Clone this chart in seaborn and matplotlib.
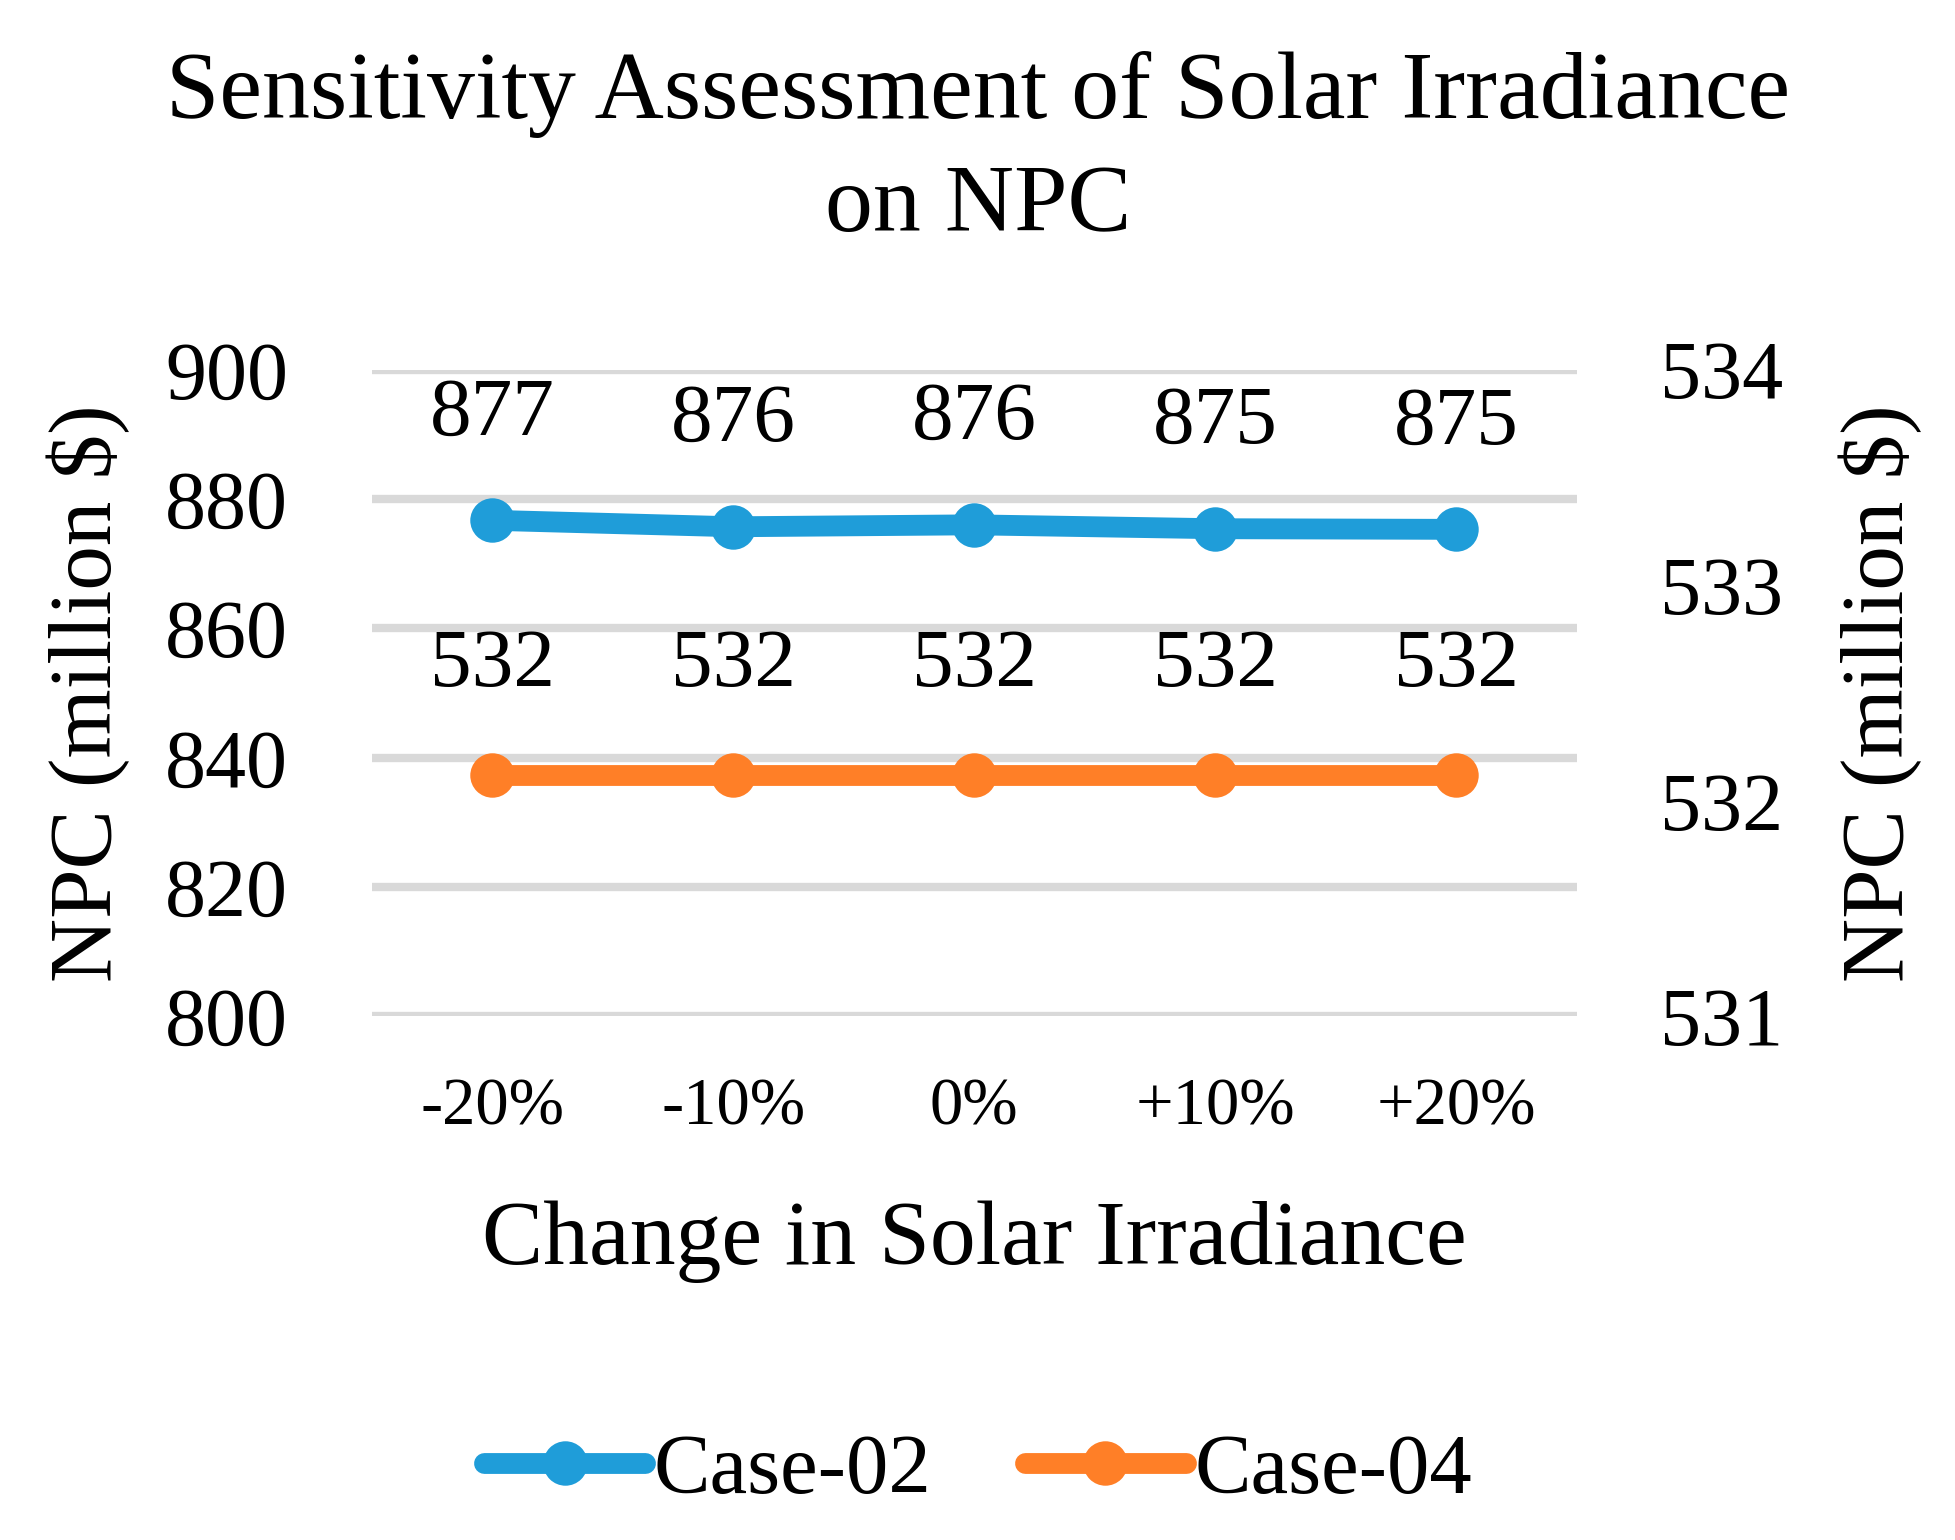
"""
Sensitivity of NPC to solar irradiance - twin-axis line chart
"""

import pandas as pd
import seaborn as sns
import matplotlib.pyplot as plt

changes = ["-20%", "-10%", "0%", "+10%", "+20%"]
case02_npc = [876.7, 875.7, 876.0, 875.4, 875.3]
case04_npc = [532.12, 532.12, 532.12, 532.12, 532.12]
left_ticks = [800, 820, 840, 860, 880, 900]
right_ticks = [531, 532, 533, 534]

BLUE = "#1F9DD9"
ORANGE = "#FF7F27"
GRID = "#D9D9D9"


def main():
    df = pd.DataFrame({"change": changes, "Case-02": case02_npc, "Case-04": case04_npc})

    sns.set_theme(style="white")
    plt.rcParams["font.family"] = ["Liberation Serif", "DejaVu Serif"]
    plt.rcParams["text.color"] = "black"
    plt.rcParams["axes.labelcolor"] = "black"
    plt.rcParams["xtick.color"] = "black"
    plt.rcParams["ytick.color"] = "black"

    fig = plt.figure(figsize=(9.78, 7.7), dpi=200)
    ax = fig.add_axes([0.190, 0.340, 0.616, 0.420])
    ax2 = ax.twinx()

    sns.lineplot(data=df, x="change", y="Case-02", ax=ax, color=BLUE, marker="o",
                 markersize=16, linewidth=7.5, markeredgewidth=0, label="Case-02",
                 legend=False, zorder=3)
    sns.lineplot(data=df, x="change", y="Case-04", ax=ax2, color=ORANGE, marker="o",
                 markersize=16, linewidth=7.5, markeredgewidth=0, label="Case-04",
                 legend=False, zorder=3)

    ax.set_xlim(-0.5, 4.5)
    ax.set_ylim(800, 900)
    ax2.set_ylim(531, 534)
    ax.set_yticks(left_ticks)
    ax2.set_yticks(right_ticks)
    ax.yaxis.grid(True, color=GRID, linewidth=3)
    ax.xaxis.grid(False)
    ax2.grid(False)
    ax.set_axisbelow(True)

    for a in (ax, ax2):
        for s in a.spines.values():
            s.set_visible(False)
    ax.tick_params(axis="y", length=0, pad=30, labelsize=29.5)
    ax2.tick_params(axis="y", length=0, pad=30, labelsize=29.5)
    ax.tick_params(axis="x", length=0, pad=22, labelsize=24)

    # data labels
    for i, v in enumerate(case02_npc):
        ax.annotate(f"{round(v)}", (i, v), xytext=(0, 38), textcoords="offset points",
                    ha="center", va="center", fontsize=30)
    for i, v in enumerate(case04_npc):
        ax2.annotate(f"{round(v)}", (i, v), xytext=(0, 39), textcoords="offset points",
                     ha="center", va="center", fontsize=30)

    ax.set_ylabel("NPC (million $)", fontsize=32, va="center")
    ax.yaxis.set_label_coords(-0.235, 0.5)
    ax2.set_ylabel("NPC (million $)", fontsize=32, rotation=90, va="center")
    ax2.yaxis.set_label_coords(1.252, 0.5)
    ax.set_xlabel("Change in Solar Irradiance", fontsize=33, va="center")
    ax.xaxis.set_label_coords(0.5, -0.348)

    fig.text(0.5, 0.902, "Sensitivity Assessment of Solar Irradiance\non NPC",
             ha="center", va="center", fontsize=34.5, linespacing=1.4)

    h1, l1 = ax.get_legend_handles_labels()
    h2, l2 = ax2.get_legend_handles_labels()
    fig.legend(h1 + h2, l1 + l2, loc="center", bbox_to_anchor=(0.5, 0.044), ncol=2,
               frameon=False, fontsize=30.5, handlelength=1.9, handletextpad=0.1,
               columnspacing=1.1)

    fig.savefig("out.png", dpi=200, facecolor="white")


if __name__ == "__main__":
    main()
